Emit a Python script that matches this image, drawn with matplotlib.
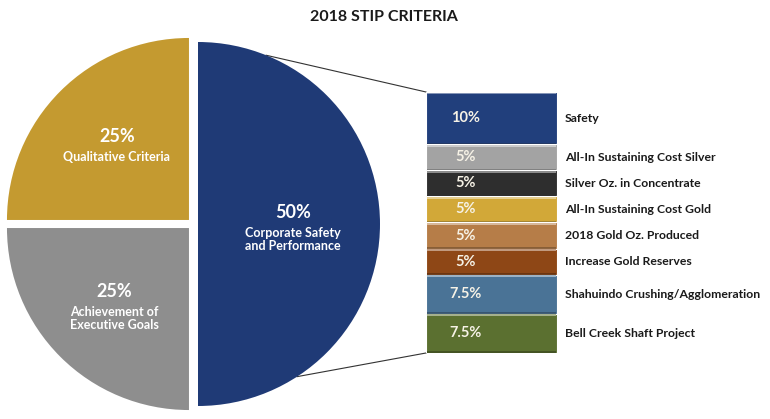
import numpy as np
import matplotlib
matplotlib.use("Agg")
import matplotlib.pyplot as plt
from matplotlib.colors import to_rgb

# ── Data ──────────────────────────────────────────────────────────────────────
pie_pcts = ["25%", "25%", "50%"]
pie_labels = ["Qualitative Criteria",
              "Achievement of\nExecutive Goals",
              "Corporate Safety\nand Performance"]
pie_values = [25, 25, 50]
pie_colors = ["#c49a30", "#8e8e8e", "#1f3a76"]

bar_labels = ["Safety",
              "All-In Sustaining Cost Silver",
              "Silver Oz. in Concentrate",
              "All-In Sustaining Cost Gold",
              "2018 Gold Oz. Produced",
              "Increase Gold Reserves",
              "Shahuindo Crushing/Agglomeration",
              "Bell Creek Shaft Project"]
bar_values = [10, 5, 5, 5, 5, 5, 7.5, 7.5]
bar_pcts = ["10%", "5%", "5%", "5%", "5%", "5%", "7.5%", "7.5%"]
bar_colors = ["#213f7c", "#a3a3a3", "#2e2e2e", "#d2a838",
              "#b67d48", "#8e4716", "#4a7396", "#5b7030"]

plt.rcParams["font.family"] = ["Lato", "DejaVu Sans"]

# ── Figure (pixel coordinates on the main axes) ───────────────────────────────
W, H = 770, 419
fig = plt.figure(figsize=(W / 100, H / 100), dpi=100)
fig.patch.set_facecolor("white")
ax = fig.add_axes([0, 0, 1, 1])

R = 182
wedges, _ = ax.pie(pie_values, colors=pie_colors, startangle=90,
                   radius=R, center=(193, H - 224),
                   explode=[5.7, 5.7, 5.0], frame=True,
                   wedgeprops=dict(linewidth=0))
ax.set_xlim(0, W)
ax.set_ylim(0, H)
ax.set_aspect("equal")
ax.axis("off")

# labels inside the pie slices
label_dist = [0.56, 0.58, 0.52]
for w, pct, lab, d in zip(wedges, pie_pcts, pie_labels, label_dist):
    th = np.deg2rad((w.theta1 + w.theta2) / 2)
    cx = w.center[0] + d * R * np.cos(th)
    cy = w.center[1] + d * R * np.sin(th)
    ax.text(cx, cy + 3, pct, ha="center", va="bottom", color="white",
            fontsize=13, fontweight="bold")
    ax.text(cx, cy - 3, lab, ha="center", va="top", color="white",
            fontsize=9, fontweight="bold", linespacing=1.1)

# ── Stacked bar of the 50% slice ──────────────────────────────────────────────
bx0, bx1, by0, by1 = 426, 557, 92, 353   # pixel box (top-left origin)
axb = fig.add_axes([bx0 / W, 1 - by1 / H, (bx1 - bx0) / W, (by1 - by0) / H])
axb.set_xlim(0, 1)
axb.set_ylim(sum(bar_values), 0)
axb.axis("off")

bottoms = np.concatenate([[0], np.cumsum(bar_values)[:-1]])
for val, bot, col, pct, lab in zip(bar_values, bottoms, bar_colors,
                                   bar_pcts, bar_labels):
    axb.bar(0.5, val, bottom=bot, width=1, color=col,
            edgecolor="white", linewidth=0.8)
    # bevel highlight on the top edge, shadow on the bottom edge
    light = tuple(c + (1 - c) * 0.45 for c in to_rgb(col))
    axb.bar(0.5, 0.35, bottom=bot + 0.1, width=0.98, color=light, linewidth=0)
    dark = tuple(c * 0.75 for c in to_rgb(col))
    axb.bar(0.5, 0.3, bottom=bot + val - 0.3, width=0.98, color=dark,
            linewidth=0)
    axb.text(0.30, bot + val / 2, pct, ha="center", va="center",
             color="#f6f2e6", fontsize=10.5, fontweight="bold")
    axb.text(1.06, bot + val / 2, lab, ha="left", va="center",
             color="#1a1a1a", fontsize=8.8, fontweight="bold", clip_on=False)

# ── Connector lines from the blue slice to the bar ────────────────────────────
blue = wedges[2]
to_px = ax.transData.inverted()
top_corner = to_px.transform(axb.transData.transform((0, 0)))
bot_corner = to_px.transform(axb.transData.transform((0, sum(bar_values))))
for ang, corner in [(68, top_corner), (-57, bot_corner)]:
    a = np.deg2rad(ang)
    px = blue.center[0] + R * np.cos(a)
    py = blue.center[1] + R * np.sin(a)
    ax.plot([px, corner[0]], [py, corner[1]], color="#333333", lw=0.8,
            zorder=0)

fig.text(0.499, 1 - 17 / H, "2018 STIP CRITERIA", ha="center", va="center",
         fontsize=11.5, fontweight="bold", color="#1a1a1a")

fig.savefig("out.png", dpi=100)
